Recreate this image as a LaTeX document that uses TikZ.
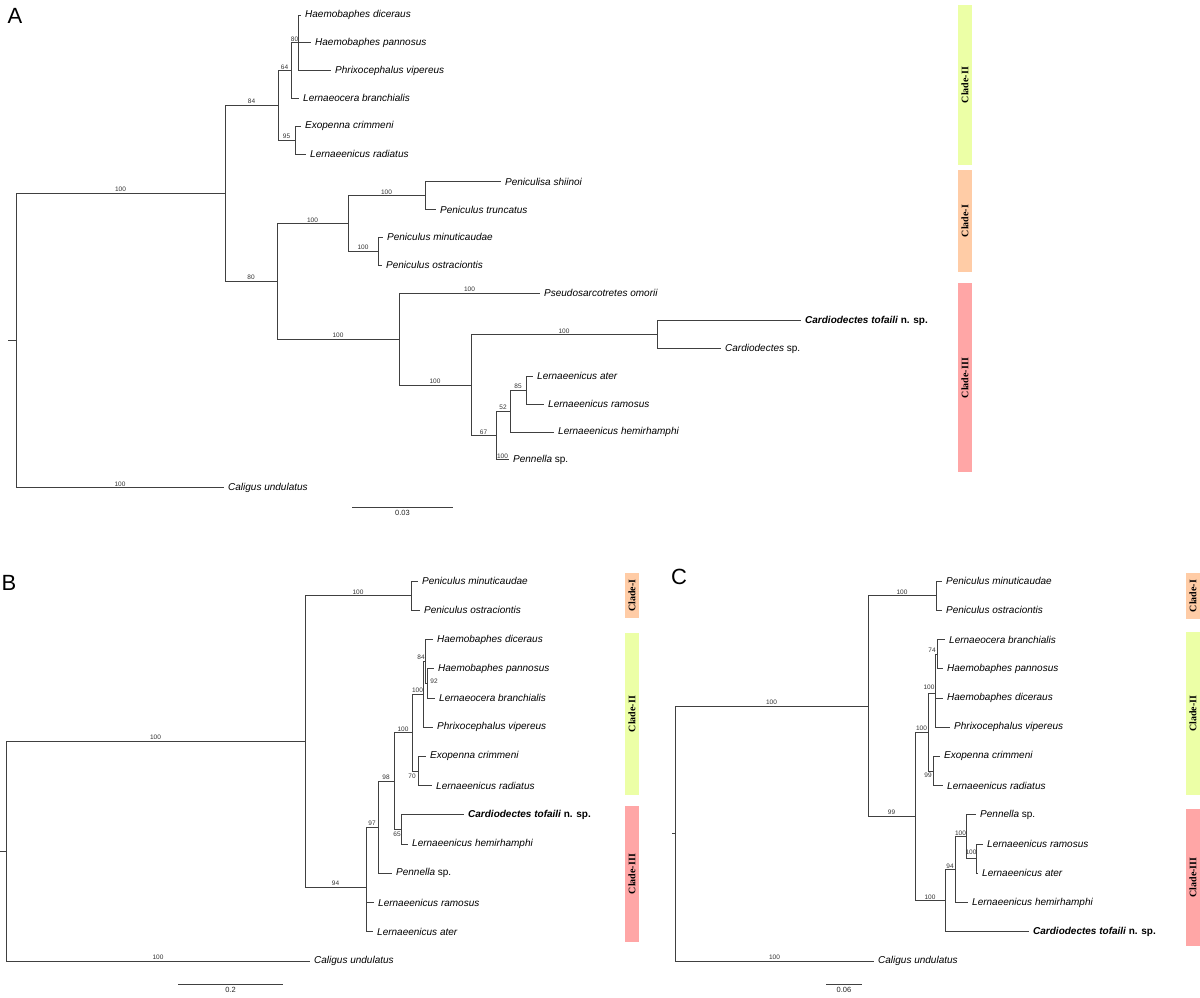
\documentclass[tikz,border=0pt]{standalone}
\usepackage{fontspec}
\setmainfont{Liberation Sans}
\newfontfamily\cladefont{Liberation Serif}
\usetikzlibrary{positioning}

\definecolor{cladeone}{RGB}{255,204,166}
\definecolor{cladetwo}{RGB}{236,255,166}
\definecolor{cladethree}{RGB}{255,166,166}

\begin{document}
\begin{tikzpicture}[x=1pt,y=-1pt,
  br/.style={draw=black!75,line width=0.75pt},
  taxon/.style={anchor=west,inner xsep=4pt,inner ysep=0pt,font=\fontsize{10}{12}\selectfont\itshape},
  bs/.style={font=\fontsize{6.5}{7}\selectfont,text=black!80,inner sep=1pt},
  sclab/.style={font=\fontsize{7.5}{8}\selectfont,text=black!85,inner sep=1pt},
  letter/.style={font=\fontsize{22}{24}\selectfont,inner sep=0pt},
  cladelab/.style={rotate=90,font=\cladefont\bfseries\fontsize{10}{11}\selectfont,inner sep=0pt}]

\useasboundingbox (0,0) rectangle (1200,997);

%%%% A
\node[letter] (labA) at (15,16) {A};

\coordinate (aRt) at (8,340.5);
\coordinate (aR) at (16,340.5);
\coordinate (aN1) at (225,193.3);
\coordinate (a84) at (278,105.4);
\coordinate (a64) at (291,70.6);
\coordinate (a80) at (298,42.8);
\coordinate (a95) at (295,140.1);
\coordinate (aB0) at (277,281.3);
\coordinate (aPN) at (348,223.5);
\coordinate (aP1) at (425,195.7);
\coordinate (aP2) at (378,251.3);
\coordinate (aC0) at (399,339);
\coordinate (aC1) at (471,385.1);
\coordinate (aCD) at (657,334.7);
\coordinate (a67) at (496,435.5);
\coordinate (a52) at (510,411.2);
\coordinate (a85) at (526,390.3);

\node[taxon] (aHd) at (301,15) {Haemobaphes diceraus};
\node[taxon] (aHp) at (311,42.8) {Haemobaphes pannosus};
\node[taxon] (aPv) at (331,70.6) {Phrixocephalus vipereus};
\node[taxon] (aLb) at (299,98.4) {Lernaeocera branchialis};
\node[taxon] (aEc) at (301,126.2) {Exopenna crimmeni};
\node[taxon] (aLr) at (306,154) {Lernaeenicus radiatus};
\node[taxon] (aPs) at (501,181.8) {Peniculisa shiinoi};
\node[taxon] (aPt) at (436,209.6) {Peniculus truncatus};
\node[taxon] (aPm) at (383,237.4) {Peniculus minuticaudae};
\node[taxon] (aPo) at (382,265.2) {Peniculus ostraciontis};
\node[taxon] (aPso) at (540,293) {Pseudosarcotretes omorii};
\node[taxon] (aCt) at (801,320.8) {\bfseries Cardiodectes tofaili \upshape n. sp.};
\node[taxon] (aCs) at (721,348.6) {Cardiodectes \upshape sp.};
\node[taxon] (aLa) at (533,376.4) {Lernaeenicus ater};
\node[taxon] (aLra) at (544,404.2) {Lernaeenicus ramosus};
\node[taxon] (aLh) at (554,432) {Lernaeenicus hemirhamphi};
\node[taxon] (aPen) at (509,459.8) {Pennella \upshape sp.};
\node[taxon] (aCu) at (224,487.6) {Caligus undulatus};

\draw[br] (aRt) -- (aR);
\draw[br] (aR) |- (aN1) node[bs,pos=0.75,above] {100};
\draw[br] (aR) |- (aCu.west) node[bs,pos=0.75,above] {100};
\draw[br] (aN1) |- (a84) node[bs,pos=0.75,above] {84};
\draw[br] (aN1) |- (aB0) node[bs,pos=0.75,above] {80};
\draw[br] (a84) |- (a64) node[bs,pos=0.75,above] {64};
\draw[br] (a84) |- (a95) node[bs,pos=0.75,above] {95};
\draw[br] (a64) |- (a80) node[bs,pos=0.75,above] {80};
\draw[br] (a64) |- (aLb.west);
\draw[br] (a80) |- (aHd.west);
\draw[br] (a80) |- (aHp.west);
\draw[br] (a80) |- (aPv.west);
\draw[br] (a95) |- (aEc.west);
\draw[br] (a95) |- (aLr.west);
\draw[br] (aB0) |- (aPN) node[bs,pos=0.75,above] {100};
\draw[br] (aB0) |- (aC0) node[bs,pos=0.75,above] {100};
\draw[br] (aPN) |- (aP1) node[bs,pos=0.75,above] {100};
\draw[br] (aPN) |- (aP2) node[bs,pos=0.75,above] {100};
\draw[br] (aP1) |- (aPs.west);
\draw[br] (aP1) |- (aPt.west);
\draw[br] (aP2) |- (aPm.west);
\draw[br] (aP2) |- (aPo.west);
\draw[br] (aC0) |- (aPso.west) node[bs,pos=0.75,above] {100};
\draw[br] (aC0) |- (aC1) node[bs,pos=0.75,above] {100};
\draw[br] (aC1) |- (aCD) node[bs,pos=0.75,above] {100};
\draw[br] (aC1) |- (a67) node[bs,pos=0.75,above] {67};
\draw[br] (aCD) |- (aCt.west);
\draw[br] (aCD) |- (aCs.west);
\draw[br] (a67) |- (a52) node[bs,pos=0.75,above] {52};
\draw[br] (a67) |- (aPen.west) node[bs,pos=0.75,above] {100};
\draw[br] (a52) |- (a85) node[bs,pos=0.75,above] {85};
\draw[br] (a52) |- (aLh.west);
\draw[br] (a85) |- (aLa.west);
\draw[br] (a85) |- (aLra.west);

\coordinate (aSb1) at (352,507);
\coordinate (aSb2) at (453,507);
\draw[br] (aSb1) -- (aSb2) node[sclab,midway,below=2pt] {0.03};

\fill[cladetwo] (958,5) rectangle (972,165);
\fill[cladeone] (958,170) rectangle (972,272);
\fill[cladethree] (958,283) rectangle (972,472);
\node[cladelab] (aClII) at (965,85) {Clade-II};
\node[cladelab] (aClI) at (965,221) {Clade-I};
\node[cladelab] (aClIII) at (965,378) {Clade-III};

%%%% B
\node[letter] (labB) at (9,583) {B};

\coordinate (bRt) at (0,851.2);
\coordinate (bR) at (6,851.2);
\coordinate (bB1) at (305,741.4);
\coordinate (bBp) at (411,595.6);
\coordinate (b94) at (366,887.2);
\coordinate (b97) at (378,827.2);
\coordinate (b98) at (394,781.1);
\coordinate (b65) at (401,829.5);
\coordinate (b100b) at (412,732.7);
\coordinate (b70) at (418,771);
\coordinate (b100c) at (423,694.3);
\coordinate (b84) at (425,661.4);
\coordinate (b92) at (427,683.3);

\node[taxon] (bPm) at (418,581) {Peniculus minuticaudae};
\node[taxon] (bPo) at (420,610.2) {Peniculus ostraciontis};
\node[taxon] (bHd) at (433,639.5) {Haemobaphes diceraus};
\node[taxon] (bHp) at (434,668.7) {Haemobaphes pannosus};
\node[taxon] (bLb) at (435,697.9) {Lernaeocera branchialis};
\node[taxon] (bPv) at (433,727.2) {Phrixocephalus vipereus};
\node[taxon] (bEc) at (426,756.4) {Exopenna crimmeni};
\node[taxon] (bLr) at (432,785.6) {Lernaeenicus radiatus};
\node[taxon] (bCt) at (464,814.8) {\bfseries Cardiodectes tofaili \upshape n. sp.};
\node[taxon] (bLh) at (408,844.1) {Lernaeenicus hemirhamphi};
\node[taxon] (bPen) at (392,873.3) {Pennella \upshape sp.};
\node[taxon] (bLra) at (374,902.5) {Lernaeenicus ramosus};
\node[taxon] (bLa) at (373,931.8) {Lernaeenicus ater};
\node[taxon] (bCu) at (310,961) {Caligus undulatus};

\draw[br] (bRt) -- (bR);
\draw[br] (bR) |- (bB1) node[bs,pos=0.75,above] {100};
\draw[br] (bR) |- (bCu.west) node[bs,pos=0.75,above] {100};
\draw[br] (bB1) |- (bBp) node[bs,pos=0.75,above] {100};
\draw[br] (bB1) |- (b94) node[bs,pos=0.75,above] {94};
\draw[br] (bBp) |- (bPm.west);
\draw[br] (bBp) |- (bPo.west);
\draw[br] (b94) |- (b97) node[bs,pos=0.75,above] {97};
\draw[br] (b94) |- (bLra.west);
\draw[br] (b94) |- (bLa.west);
\draw[br] (b97) |- (b98) node[bs,pos=0.75,above] {98};
\draw[br] (b97) |- (bPen.west);
\draw[br] (b98) |- (b100b) node[bs,pos=0.75,above] {100};
\draw[br] (b98) |- (b65);
\draw[br] (b65) |- (bCt.west);
\draw[br] (b65) |- (bLh.west);
\draw[br] (b100b) |- (b100c) node[bs,pos=0.75,above] {100};
\draw[br] (b100b) |- (b70);
\draw[br] (b70) |- (bEc.west);
\draw[br] (b70) |- (bLr.west);
\draw[br] (b100c) |- (b84);
\draw[br] (b100c) |- (bPv.west);
\draw[br] (b84) |- (bHd.west);
\draw[br] (b84) |- (b92);
\draw[br] (b92) |- (bHp.west);
\draw[br] (b92) |- (bLb.west);
\node[bs] (b65lab) at (397,834) {65};
\node[bs] (b70lab) at (412,776) {70};
\node[bs] (b84lab) at (421,657) {84};
\node[bs] (b92lab) at (434,681) {92};

\coordinate (bSb1) at (178,984);
\coordinate (bSb2) at (283,984);
\draw[br] (bSb1) -- (bSb2) node[sclab,midway,below=2pt] {0.2};

\fill[cladeone] (625,573) rectangle (639,618);
\fill[cladetwo] (625,633) rectangle (639,795);
\fill[cladethree] (625,806) rectangle (639,942);
\node[cladelab] (bClI) at (632,595.5) {Clade-I};
\node[cladelab] (bClII) at (632,714) {Clade-II};
\node[cladelab] (bClIII) at (632,874) {Clade-III};

%%%% C
\node[letter] (labC) at (679,577) {C};

\coordinate (cRt) at (672,833.5);
\coordinate (cR) at (675,833.5);
\coordinate (c1) at (868,706);
\coordinate (cPN) at (936,595.6);
\coordinate (c99) at (915,816.4);
\coordinate (c100a) at (928,732);
\coordinate (c100h) at (935,693.1);
\coordinate (c74) at (937,654.1);
\coordinate (c99b) at (933,771);
\coordinate (c100b) at (945,900.7);
\coordinate (c94) at (955,869.6);
\coordinate (c100p) at (966,836.8);
\coordinate (c100r) at (976,858.7);

\node[taxon] (cPm) at (942,581) {Peniculus minuticaudae};
\node[taxon] (cPo) at (942,610.2) {Peniculus ostraciontis};
\node[taxon] (cLb) at (945,639.5) {Lernaeocera branchialis};
\node[taxon] (cHp) at (943,668.7) {Haemobaphes pannosus};
\node[taxon] (cHd) at (943,697.9) {Haemobaphes diceraus};
\node[taxon] (cPv) at (950,727.2) {Phrixocephalus vipereus};
\node[taxon] (cEc) at (940,756.4) {Exopenna crimmeni};
\node[taxon] (cLr) at (943,785.6) {Lernaeenicus radiatus};
\node[taxon] (cPen) at (976,814.8) {Pennella \upshape sp.};
\node[taxon] (cLra) at (983,844.1) {Lernaeenicus ramosus};
\node[taxon] (cLa) at (978,873.3) {Lernaeenicus ater};
\node[taxon] (cLh) at (968,902.5) {Lernaeenicus hemirhamphi};
\node[taxon] (cCt) at (1029,931.8) {\bfseries Cardiodectes tofaili \upshape n. sp.};
\node[taxon] (cCu) at (874,961) {Caligus undulatus};

\draw[br] (cRt) -- (cR);
\draw[br] (cR) |- (c1) node[bs,pos=0.75,above] {100};
\draw[br] (cR) |- (cCu.west) node[bs,pos=0.75,above] {100};
\draw[br] (c1) |- (cPN) node[bs,pos=0.75,above] {100};
\draw[br] (c1) |- (c99) node[bs,pos=0.75,above] {99};
\draw[br] (cPN) |- (cPm.west);
\draw[br] (cPN) |- (cPo.west);
\draw[br] (c99) |- (c100a) node[bs,pos=0.75,above] {100};
\draw[br] (c99) |- (c100b) node[bs,pos=0.75,above] {100};
\draw[br] (c100a) |- (c100h);
\draw[br] (c100a) |- (c99b);
\draw[br] (c100h) |- (c74);
\draw[br] (c100h) |- (cHd.west);
\draw[br] (c100h) |- (cPv.west);
\draw[br] (c74) |- (cLb.west);
\draw[br] (c74) |- (cHp.west);
\draw[br] (c99b) |- (cEc.west);
\draw[br] (c99b) |- (cLr.west);
\draw[br] (c100b) |- (c94) node[bs,pos=0.75,above] {94};
\draw[br] (c100b) |- (cCt.west);
\draw[br] (c94) |- (c100p) node[bs,pos=0.75,above] {100};
\draw[br] (c94) |- (cLh.west);
\draw[br] (c100p) |- (cPen.west);
\draw[br] (c100p) |- (c100r);
\draw[br] (c100r) |- (cLra.west);
\draw[br] (c100r) |- (cLa.west);
\node[bs] (c100hlab) at (929,687) {100};
\node[bs] (c74lab) at (932,650) {74};
\node[bs] (c99blab) at (928,775) {99};
\node[bs] (c100rlab) at (971,852) {100};

\coordinate (cSb1) at (826,984);
\coordinate (cSb2) at (862,984);
\draw[br] (cSb1) -- (cSb2) node[sclab,midway,below=2pt] {0.06};

\fill[cladeone] (1186,573) rectangle (1200,619);
\fill[cladetwo] (1186,632) rectangle (1200,795);
\fill[cladethree] (1186,809) rectangle (1200,946);
\node[cladelab] (cClI) at (1193,596) {Clade-I};
\node[cladelab] (cClII) at (1193,713.5) {Clade-II};
\node[cladelab] (cClIII) at (1193,877.5) {Clade-III};

\end{tikzpicture}
\end{document}
